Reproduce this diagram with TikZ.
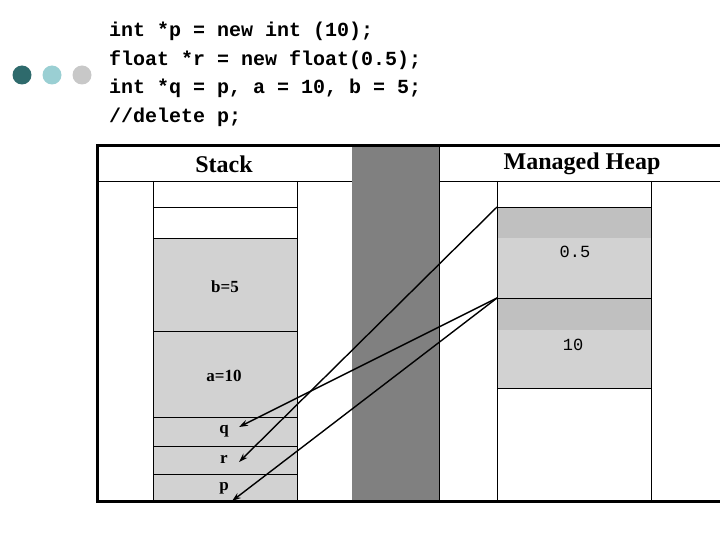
\documentclass[tikz,border=0pt]{standalone}
\usepackage{fontspec}
\setmainfont{Liberation Serif}
\setmonofont{Liberation Mono}
\usetikzlibrary{arrows.meta}
\definecolor{dteal}{HTML}{2E6A6C}
\definecolor{lteal}{HTML}{9ACFD3}
\definecolor{lgray}{HTML}{C8C8C8}
\definecolor{cellfill}{HTML}{D2D2D2}
\definecolor{cellfilldk}{HTML}{C0C0C0}
\definecolor{barg}{HTML}{808080}
\tikzset{
  codeline/.style={anchor=west,inner sep=0pt,font=\fontsize{20}{20}\selectfont\ttfamily\bfseries},
  header/.style={inner sep=0pt,font=\fontsize{24}{24}\selectfont\bfseries},
  slabel/.style={inner sep=0pt,font=\fontsize{17}{17}\selectfont\bfseries},
  hlabel/.style={inner sep=0pt,font=\fontsize{17}{17}\selectfont\ttfamily},
  cell/.style={draw=black,line width=0.9pt},
  frame/.style={line width=3pt},
  ptr/.style={line width=1.4pt,-{Stealth[length=9pt,width=6pt]}},
  dot/.style={circle,inner sep=0pt,minimum size=19pt}
}
\begin{document}
\begin{tikzpicture}[x=1pt,y=-1pt]
\useasboundingbox (0,0) rectangle (720,540);
% bullets
\node[dot,fill=dteal] (b1) at (22,75) {};
\node[dot,fill=lteal] (b2) at (52,75) {};
\node[dot,fill=lgray] (b3) at (82,75) {};
% code
\node[codeline] (c1) at (109,31) {int *p = new int (10);};
\node[codeline] (c2) at (109,60) {float *r = new float(0.5);};
\node[codeline] (c3) at (109,88) {int *q = p, a = 10, b = 5;};
\node[codeline] (c4) at (109,117) {//delete p;};
% gray bar
\fill[barg] (352,146) rectangle (439,501);
\draw[line width=0.9pt] (439,146) -- (439,501);
% stack cells
\fill[cellfill] (153,238) rectangle (297,501);
\draw[cell] (153,181) -- (153,501);
\draw[cell] (297,181) -- (297,501);
\foreach \yy in {207,238,331,417,446,474}
  \draw[cell] (153,\yy) -- (297,\yy);
% heap cells
\fill[cellfill] (497,207) rectangle (651,388);
\fill[cellfilldk] (497,207) rectangle (651,238);
\fill[cellfilldk] (497,298) rectangle (651,330);
\draw[cell] (497,181) -- (497,501);
\draw[cell] (651,181) -- (651,501);
\foreach \yy in {207,298,388}
  \draw[cell] (497,\yy) -- (651,\yy);
% header lines
\draw[cell] (97,181) -- (352,181);
\draw[cell] (439,181) -- (720,181);
% frame
\draw[frame] (720,146) -- (97,146) -- (97,501) -- (720,501);
% headers
\node[header] (hs) at (224,164) {Stack};
\node[header] (hh) at (582,164) {Managed Heap};
% stack labels
\node[slabel] (lb) at (225,287) {b=5};
\node[slabel] (la) at (224,376) {a=10};
\node[slabel] (lq) at (224,431) {q};
\node[slabel] (lr) at (224,459) {r};
\node[slabel] (lp) at (224,488) {p};
% heap labels
\node[hlabel] (v05) at (575,252) {0.5};
\node[hlabel] (v10) at (573,345) {10};
% pointer ends
\coordinate (hr) at (497,207);
\coordinate (hp) at (497,298);
\coordinate (tq) at (239,427);
\coordinate (tr) at (239,462);
\coordinate (tp) at (232,501);
\draw[ptr] (hr) -- (tr);
\draw[ptr] (hp) -- (tq);
\draw[ptr] (hp) -- (tp);
\end{tikzpicture}
\end{document}
